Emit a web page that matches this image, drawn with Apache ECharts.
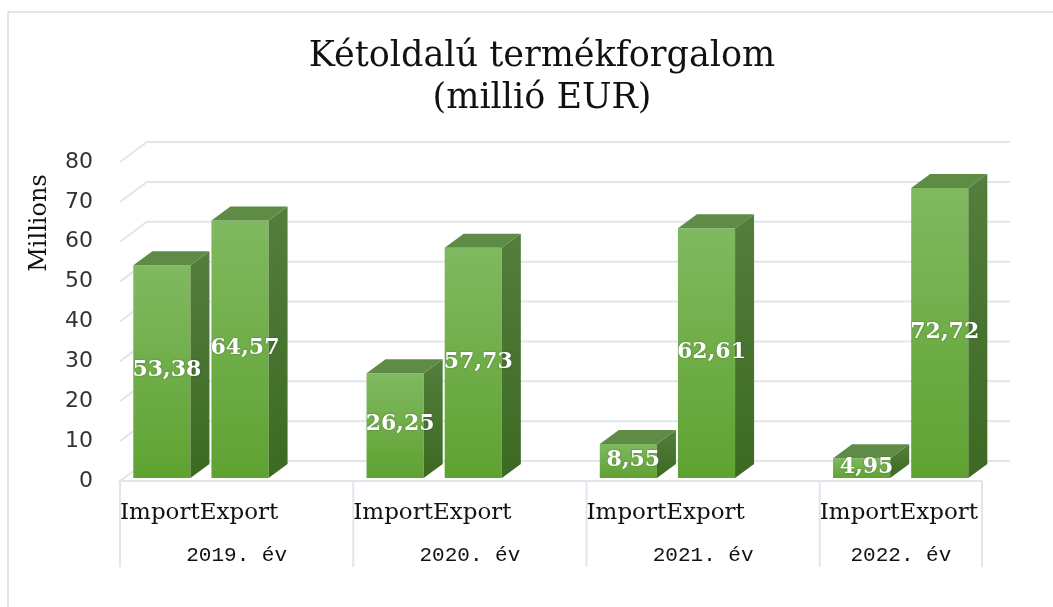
<!DOCTYPE html>
<html>
<head>
<meta charset="utf-8">
<title>Kétoldalú termékforgalom</title>
<script src="https://cdn.jsdelivr.net/npm/echarts@6/dist/echarts.min.js"></script>
<style>
  html, body { margin: 0; padding: 0; background: #fff; }
  #chart { width: 1053px; height: 607px; }
</style>
</head>
<body>
<div id="chart"></div>
<script>
const years = ['2019. év', '2020. év', '2021. év', '2022. év'];
const flows = ['Import', 'Export'];
const importValues = [53.38, 26.25, 8.55, 4.95];
const exportValues = [64.57, 57.73, 62.61, 72.72];
const yTicks = [0, 10, 20, 30, 40, 50, 60, 70, 80];

// fake 3d geometry, in pixels
const floorRight = 982;          // the plot is cut off here, like in the original
const wallDx = 27, wallDy = 20;  // back wall offset
const barDx = 19, barDy = 14;    // bar depth
const barBack = 3;               // bars stand a bit behind the front edge
const barOffsets = [0.057, 0.392]; // import / export, share of band width
const barWidth = 0.245;

const gridColor = '#e2e5ed';

const chart = echarts.init(document.getElementById('chart'));

const fmt = (v) => v.toFixed(2).replace('.', ',');

const renderWall = (params, api) => {
  const v = api.value(1);
  const cs = params.coordSys;
  const y = api.coord([0, v])[1];
  const pts = [[cs.x, y], [cs.x + wallDx, y - wallDy], [floorRight + wallDx + 1, y - wallDy]];
  if (v === 0) pts.unshift([floorRight, y]);
  return {
    type: 'polyline',
    shape: { points: pts },
    style: { stroke: gridColor, lineWidth: 2, fill: null },
    silent: true,
  };
};

const renderCategory = (params, api) => {
  const i = api.value(0);
  const bw = api.size([1, 0])[0];
  const c = api.coord([i, 0]);
  const start = c[0] - bw / 2;
  const end = Math.min(c[0] + bw / 2, floorRight);
  const y0 = c[1];
  const children = [
    { type: 'line', shape: { x1: start, y1: y0, x2: start, y2: y0 + 86 }, style: { stroke: gridColor, lineWidth: 2 } },
    {
      type: 'text',
      style: {
        x: start, y: y0 + 32, text: flows.join(''),
        align: 'left', verticalAlign: 'middle',
        font: '23px "DejaVu Serif"', fill: '#111',
      },
    },
    {
      type: 'text',
      style: {
        x: (start + end) / 2, y: y0 + 74, text: years[i],
        align: 'center', verticalAlign: 'middle',
        font: '21px "Liberation Mono"', fill: '#111',
      },
    },
  ];
  if (i === years.length - 1) {
    children.push({ type: 'line', shape: { x1: end, y1: y0, x2: end, y2: y0 + 86 }, style: { stroke: gridColor, lineWidth: 2 } });
  }
  return { type: 'group', silent: true, children };
};

const renderBar = (k) => (params, api) => {
  const i = api.value(0);
  const v = api.value(1);
  const bw = api.size([1, 0])[0];
  const base = api.coord([i, 0]);
  const x1 = base[0] - bw / 2 + bw * barOffsets[k];
  const x2 = x1 + bw * barWidth;
  const y0 = base[1] - barBack;
  const y1 = api.coord([i, v])[1] - barBack;
  return {
    type: 'group',
    children: [
      {
        type: 'rect',
        shape: { x: x1, y: y1, width: x2 - x1, height: y0 - y1 },
        style: {
          fill: new echarts.graphic.LinearGradient(0, 0, 0, 1, [
            { offset: 0, color: '#80b960' },
            { offset: 1, color: '#5fa231' },
          ]),
        },
      },
      {
        type: 'polygon',
        shape: { points: [[x2, y1], [x2 + barDx, y1 - barDy], [x2 + barDx, y0 - barDy], [x2, y0]] },
        style: {
          fill: new echarts.graphic.LinearGradient(0, 0, 0, 1, [
            { offset: 0, color: '#537e3d' },
            { offset: 1, color: '#3c6a22' },
          ]),
        },
      },
      {
        type: 'polygon',
        shape: { points: [[x1, y1], [x1 + barDx, y1 - barDy], [x2 + barDx, y1 - barDy], [x2, y1]] },
        style: { fill: '#5e8c47' },
      },
      {
        type: 'text',
        style: {
          x: (x1 + x2) / 2 + 5, y: (y0 + y1) / 2 - 1, text: fmt(v),
          align: 'center', verticalAlign: 'middle',
          font: 'bold 22px "DejaVu Serif"', fill: '#fff',
          textShadowColor: 'rgba(0,0,0,0.35)', textShadowBlur: 2,
        },
      },
    ],
  };
};

chart.setOption({
  animation: false,
  title: {
    text: 'Kétoldalú termékforgalom\n(millió EUR)',
    left: 537,
    top: 31,
    textAlign: 'center',
    textStyle: {
      fontFamily: 'DejaVu Serif',
      fontSize: 35,
      fontWeight: 'normal',
      lineHeight: 42,
      color: '#111',
    },
  },
  graphic: [
    {
      type: 'rect',
      shape: { x: 8, y: 12, width: 1100, height: 700 },
      style: { fill: null, stroke: '#d9dce3', lineWidth: 1.5 },
      silent: true,
      z: -10,
    },
    {
      type: 'text',
      x: 40,
      y: 223,
      rotation: Math.PI / 2,
      style: {
        text: 'Millions',
        align: 'center',
        verticalAlign: 'middle',
        font: '24px "DejaVu Serif"',
        fill: '#111',
      },
    },
  ],
  grid: { left: 120, width: 940, top: 162, bottom: 126 },
  xAxis: { type: 'category', data: years, show: false },
  yAxis: {
    type: 'value',
    min: 0,
    max: 80,
    interval: 10,
    axisLine: { show: false },
    axisTick: { show: false },
    splitLine: { show: false },
    axisLabel: { margin: 27, fontFamily: 'DejaVu Sans', fontSize: 22, color: '#333' },
  },
  series: [
    { type: 'custom', name: 'wall', renderItem: renderWall, data: yTicks.map((v) => [0, v]), clip: false, z: 1 },
    { type: 'custom', name: 'category', renderItem: renderCategory, data: years.map((_, i) => [i, 0]), clip: false, z: 1 },
    { type: 'custom', name: flows[0], renderItem: renderBar(0), data: importValues.map((v, i) => [i, v]), clip: false, z: 2 },
    { type: 'custom', name: flows[1], renderItem: renderBar(1), data: exportValues.map((v, i) => [i, v]), clip: false, z: 2 },
  ],
});
</script>
</body>
</html>
